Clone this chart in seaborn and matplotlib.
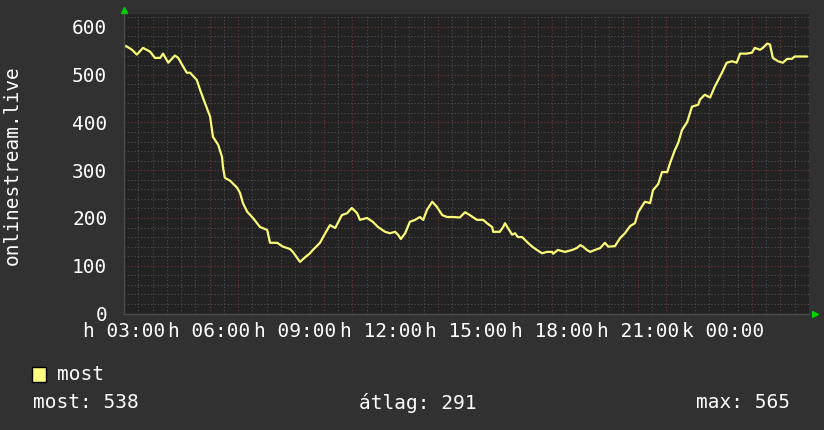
import numpy as np
import pandas as pd
import matplotlib
matplotlib.use("Agg")
import matplotlib.pyplot as plt
from matplotlib.ticker import MultipleLocator, FuncFormatter
from matplotlib.patches import Rectangle
import seaborn as sns

# minutes after 03:00
minutes = [0, 4, 17, 27, 40, 55, 65, 76, 82, 93, 107, 114, 122, 132, 139, 153, 160, 170,
           181, 187, 198, 206, 208, 212, 223, 238, 244, 250, 259, 271, 286, 301, 307, 322,
           334, 349, 355, 370, 381, 391, 397, 412, 423, 433, 444, 458, 469, 479, 490, 496,
           511, 523, 534, 549, 559, 570, 576, 582, 591, 601, 612, 622, 629, 637, 648, 658,
           669, 679, 692, 706, 717, 727, 742, 755, 763, 774, 776, 790, 797, 801, 807, 816,
           822, 828, 837, 847, 858, 868, 879, 889, 900, 902, 912, 927, 942, 952, 959, 965,
           973, 980, 990, 1001, 1011, 1018, 1032, 1043, 1053, 1064, 1074, 1081, 1095, 1106,
           1112, 1123, 1131, 1142, 1148, 1158, 1165, 1173, 1184, 1194, 1207, 1211, 1221,
           1232, 1242, 1257, 1267, 1278, 1288, 1295, 1309, 1320, 1326, 1337, 1343, 1352,
           1358, 1364, 1375, 1385, 1394, 1404, 1410, 1421, 1436]
viewers = [558, 560, 552, 542, 556, 548, 535, 535, 544, 525, 540, 535, 521, 504, 504, 489, 468, 441,
           412, 370, 353, 328, 307, 284, 278, 263, 252, 231, 213, 200, 181, 175, 148, 148,
           140, 135, 129, 108, 118, 126, 133, 148, 168, 185, 179, 206, 210, 221, 210, 196,
           200, 192, 181, 171, 168, 171, 165, 156, 168, 192, 196, 202, 196, 217, 234, 223,
           206, 202, 202, 201, 212, 206, 196, 196, 189, 181, 171, 171, 181, 189, 179, 165,
           168, 160, 160, 150, 140, 133, 126, 129, 129, 125, 133, 129, 133, 137, 143, 140,
           133, 129, 133, 137, 148, 140, 141, 158, 168, 183, 189, 212, 234, 231,
           258, 271, 296, 296, 315, 342, 357, 384, 401, 433, 437, 448, 458,
           452, 475, 504, 525, 528, 525, 544, 544, 546, 556, 552, 556, 565,
           563, 535, 528, 525, 533, 533, 538, 538, 538]

tick_minutes = [0, 180, 360, 540, 720, 900, 1080, 1260]
tick_labels = ['h 03:00', 'h 06:00', 'h 09:00', 'h 12:00', 'h 15:00', 'h 18:00', 'h 21:00', 'k 00:00']
series_name = 'most'
stat_names = ['most', 'átlag', 'max']
stat_values = [538, 291, 565]
ylabel = 'onlinestream.live'

df = pd.DataFrame({'t': minutes, 'v': viewers})

sns.set_theme(style='dark')
plt.rcParams['font.family'] = ['DejaVu Sans Mono']
canvas = '#313131'
panel = '#222222'
line_col = '#fafa78'

fig = plt.figure(figsize=(8.24, 4.30), dpi=100, facecolor=canvas)
ax = fig.add_axes([124/824, 1-313.5/430, 685/824, 300/430])
ax.set_facecolor(panel)

sns.lineplot(data=df, x='t', y='v', ax=ax, color=line_col, linewidth=1.6)

ax.set_xlim(0, 1440)
ax.set_ylim(0, 628)
ax.xaxis.set_major_locator(MultipleLocator(60))
ax.xaxis.set_minor_locator(MultipleLocator(30))
lab = dict(zip(tick_minutes, tick_labels))
ax.xaxis.set_major_formatter(FuncFormatter(lambda x, p: lab.get(int(round(x)), '')))
ax.yaxis.set_major_locator(MultipleLocator(100))
ax.yaxis.set_minor_locator(MultipleLocator(20))

ax.set_axisbelow(True)
ax.grid(which='minor', color='#4e4e4e', linestyle=(0, (1, 2)), linewidth=0.8)
ax.grid(which='major', color='#6e3636', linestyle=(0, (1, 2)), linewidth=0.8)

ax.tick_params(which='both', length=0, colors='white', labelsize=14)
ax.tick_params(axis='y', pad=12)
ax.tick_params(axis='x', pad=6)
ax.set_xlabel('')
ax.set_ylabel('')
for s in ['top', 'right']:
    ax.spines[s].set_visible(False)
for s in ['left', 'bottom']:
    ax.spines[s].set_color('#4a4a4a')
    ax.spines[s].set_linewidth(1)

# green axis arrows
ax.plot([0], [1.012], marker='^', color='#00d000', markersize=5, transform=ax.transAxes, clip_on=False)
ax.plot([1.009], [0], marker='>', color='#00d000', markersize=5, transform=ax.transAxes, clip_on=False)

fig.text(12/824, 1-165/430, ylabel, rotation=90, ha='center', va='center', color='white', fontsize=14)

# legend
fig.add_artist(Rectangle((32/824, 1-382/430), 14/824, 15/430, transform=fig.transFigure,
                         facecolor='#ffff80', edgecolor='black', linewidth=1))
fig.text(57/824, 1-374/430, series_name, ha='left', va='center', color='white', fontsize=14)
fig.text(33/824, 1-403/430, f'{stat_names[0]}: {stat_values[0]}', ha='left', va='center', color='white', fontsize=14)
fig.text(418/824, 1-403/430, f'{stat_names[1]}: {stat_values[1]}', ha='center', va='center', color='white', fontsize=14)
fig.text(790/824, 1-403/430, f'{stat_names[2]}: {stat_values[2]}', ha='right', va='center', color='white', fontsize=14)

fig.savefig('out.png', dpi=100, facecolor=canvas)
